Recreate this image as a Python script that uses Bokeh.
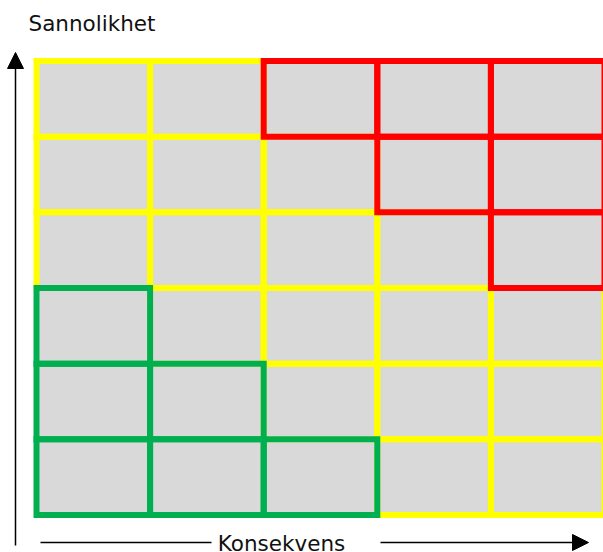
from bokeh.plotting import figure
from bokeh.models import Range1d, Arrow, NormalHead, ColumnDataSource
from bokeh.core.properties import value
from bokeh.embed import file_html
from bokeh.resources import INLINE

# ---- data ----
consequence = [1, 2, 3, 4, 5]          # columns (x)
probability = [1, 2, 3, 4, 5, 6]       # rows (y, bottom -> top)
# risk level per cell, rows from probability 1 (bottom) to 6 (top)
risk_rows = [
    ["G", "G", "G", "Y", "Y"],
    ["G", "G", "Y", "Y", "Y"],
    ["G", "Y", "Y", "Y", "Y"],
    ["Y", "Y", "Y", "Y", "R"],
    ["Y", "Y", "Y", "R", "R"],
    ["Y", "Y", "R", "R", "R"],
]
level_colors = {"Y": "#ffff00", "G": "#00b050", "R": "#ff0000"}
draw_order = ["Y", "G", "R"]
x_label = "Konsekvens"
y_label = "Sannolikhet"

# ---- layout helpers (screen px -> data units) ----
W, H = 603, 552
OFF = 0
CW = 113.6            # px per consequence unit
RH = 75.67            # px per probability unit
X0 = -(36 - OFF) / CW
X1 = X0 + W / CW
Y1 = 6 + (60.5 - OFF) / RH
Y0 = Y1 - H / RH

def sx(px):
    return X0 + (px - OFF) / CW

def sy(py):
    return Y1 - (py - OFF) / RH

p = figure(width=W, height=H, output_backend="svg", toolbar_location=None,
           x_range=Range1d(X0, X1), y_range=Range1d(Y0, Y1),
           x_axis_type=None, y_axis_type=None, min_border=0,
           outline_line_color=None, background_fill_color="white",
           border_fill_color="white")
p.grid.visible = False

# cells
cells = {"left": [], "right": [], "bottom": [], "top": [], "lvl": []}
for ri, row in enumerate(risk_rows):
    for ci, lvl in enumerate(row):
        c = consequence[ci]
        r = probability[ri]
        cells["left"].append(c - 1)
        cells["right"].append(c)
        cells["bottom"].append(r - 1)
        cells["top"].append(r)
        cells["lvl"].append(lvl)

p.quad(left=cells["left"], right=cells["right"], bottom=cells["bottom"],
       top=cells["top"], fill_color="#d9d9d9", line_color=None)

for lvl in draw_order:
    idx = [i for i, l in enumerate(cells["lvl"]) if l == lvl]
    src = ColumnDataSource(dict(
        left=[cells["left"][i] for i in idx],
        right=[cells["right"][i] for i in idx],
        bottom=[cells["bottom"][i] for i in idx],
        top=[cells["top"][i] for i in idx],
    ))
    p.quad(left="left", right="right", bottom="bottom", top="top", source=src,
           fill_alpha=0, line_color=level_colors[lvl], line_width=6,
           line_join="miter")

# axes arrows
p.add_layout(Arrow(end=NormalHead(size=16, fill_color="black", line_color="black"),
                   x_start=sx(15), y_start=sy(545), x_end=sx(15), y_end=sy(52),
                   line_color="black", line_width=1.5))
p.segment(x0=[sx(40)], y0=[sy(542)], x1=[sx(211)], y1=[sy(542)],
          line_color="black", line_width=1.5)
p.add_layout(Arrow(end=NormalHead(size=16, fill_color="black", line_color="black"),
                   x_start=sx(380), y_start=sy(542), x_end=sx(588), y_end=sy(542),
                   line_color="black", line_width=1.5))

p.text(x=[sx(281)], y=[sy(542.5)], text=[x_label], text_align="center",
       text_baseline="middle", text_font=value("DejaVu Sans"),
       text_font_size="21.5px", text_color="#111111")
p.text(x=[sx(28)], y=[sy(23)], text=[y_label], text_align="left",
       text_baseline="middle", text_font=value("DejaVu Sans"),
       text_font_size="21.5px", text_color="#111111")

open("out.html", "w").write(file_html(p, INLINE))
